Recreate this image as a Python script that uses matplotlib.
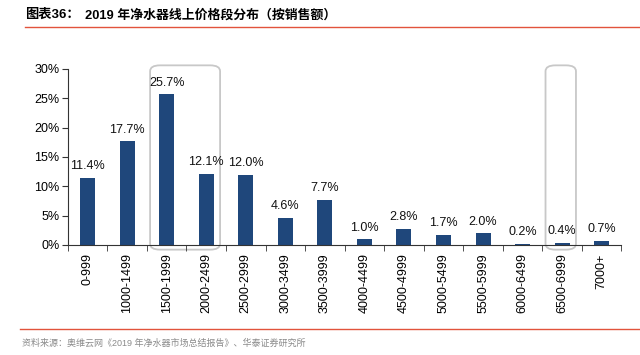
import matplotlib
matplotlib.use("Agg")
import matplotlib.pyplot as plt
from matplotlib.patches import FancyBboxPatch
from matplotlib.lines import Line2D
import numpy as np

plt.rcParams['font.family'] = ['Liberation Sans', 'Noto Sans CJK SC', 'DejaVu Sans']

# data
categories = ['0-999', '1000-1499', '1500-1999', '2000-2499', '2500-2999', '3000-3499',
              '3500-3999', '4000-4499', '4500-4999', '5000-5499', '5500-5999',
              '6000-6499', '6500-6999', '7000+']
shares = [11.4, 17.7, 25.7, 12.1, 12.0, 4.6, 7.7, 1.0, 2.8, 1.7, 2.0, 0.2, 0.4, 0.7]
highlight_groups = [[2, 3], [12]]

title_num = '图表36：'
title_text = '2019 年净水器线上价格段分布（按销售额）'
source_text = '资料来源：奥维云网《2019 年净水器市场总结报告》、华泰证券研究所'

bar_color = '#1F477B'
red = '#E2533C'

fig = plt.figure(figsize=(6.4, 3.55), dpi=100)
ax = fig.add_axes([0.106, 0.31, 0.865, 0.496])

x = np.arange(len(categories))
ax.bar(x, shares, width=0.38, color=bar_color)
for xi, v in zip(x, shares):
    ax.annotate('%.1f%%' % v, (xi, v), xytext=(0, 4), textcoords='offset points',
                ha='center', va='bottom', fontsize=9, color='#111111')

ax.set_xlim(-0.5, len(categories) - 0.5)
ax.set_ylim(0, 30)
ax.set_yticks(range(0, 31, 5))
ax.set_yticklabels(['%d%%' % t for t in range(0, 31, 5)], fontsize=9)
ax.set_xticks(x)
ax.set_xticklabels(categories, rotation=90, fontsize=9)
ax.set_xticks(np.arange(-0.5, len(categories), 1), minor=True)
ax.tick_params(axis='x', which='major', length=0, pad=6)
ax.tick_params(axis='x', which='minor', length=4, direction='out', color='#333333')
ax.tick_params(axis='y', length=4, direction='out', color='#333333', pad=2)
for s in ['top', 'right']:
    ax.spines[s].set_visible(False)
for s in ['left', 'bottom']:
    ax.spines[s].set_color('#333333')
    ax.spines[s].set_linewidth(0.8)

# rounded highlight boxes
for g in highlight_groups:
    x0 = min(g) - 0.42
    x1 = max(g) + 0.35
    box = FancyBboxPatch((x0, -0.8), x1 - x0, 31.4,
                         boxstyle='round,pad=0,rounding_size=0.25',
                         mutation_aspect=4, fill=False, edgecolor='#C8C8C8',
                         linewidth=1.3, clip_on=False)
    ax.add_patch(box)

# title and source
fig.text(25 / 640, 1 - 15 / 355, title_num, fontsize=9.5, fontweight='bold',
         va='center', ha='left')
fig.text(85 / 640, 1 - 15 / 355, title_text, fontsize=9.3, fontweight='bold',
         va='center', ha='left')
fig.add_artist(Line2D([25 / 640, 1], [1 - 27 / 355, 1 - 27 / 355], color=red, lw=1))
fig.add_artist(Line2D([20 / 640, 1], [1 - 329 / 355, 1 - 329 / 355], color=red, lw=1))
fig.text(22 / 640, 1 - 343 / 355, source_text, fontsize=6.5, color='#8A8A8A',
         va='center', ha='left')

fig.savefig('out.png', dpi=100)
